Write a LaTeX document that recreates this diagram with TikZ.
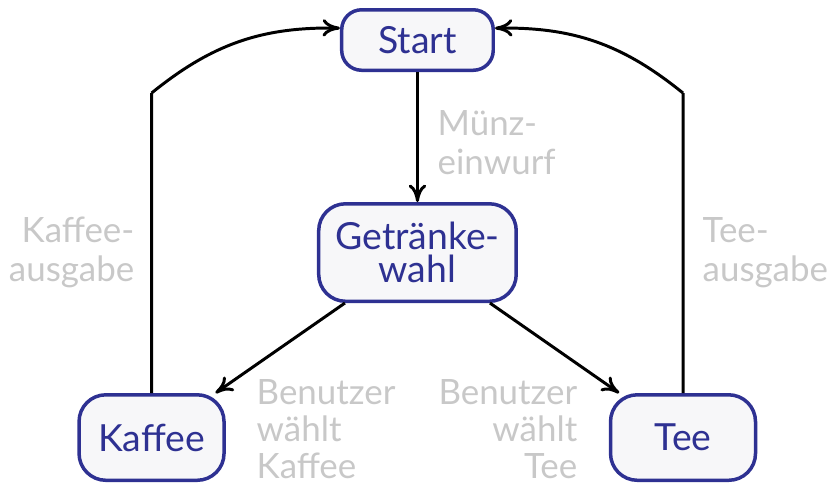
\documentclass[tikz,border=0pt]{standalone}
\usepackage{fontspec}
\setmainfont{Lato}
\usetikzlibrary{arrows.meta}
\definecolor{zblue}{RGB}{46,49,146}
\definecolor{zfill}{RGB}{247,247,249}
\definecolor{zgray}{RGB}{200,200,200}

\begin{document}
\begin{tikzpicture}[
    statebox/.style={draw=zblue,fill=zfill,text=zblue,line width=1pt,rounded corners=0.27cm,
      align=center,inner sep=0pt,font=\fontsize{10.7}{9.6}\selectfont},
    note/.style={text=zgray,inner sep=0pt,font=\fontsize{10}{11.1}\selectfont},
    flow/.style={line width=0.85pt,-{To[length=5pt,width=5pt]}}]
  \useasboundingbox (0,0) rectangle (8.348,4.864);

  % states
  \node[statebox,rounded corners=0.2cm,minimum width=1.526cm,minimum height=0.609cm] (start) at (4.204,4.461) {Start};
  \node[statebox,minimum width=1.989cm,minimum height=0.982cm] (wahl) at (4.204,2.321) {Getränke-\\wahl};
  \node[statebox,minimum width=1.46cm,minimum height=0.861cm] (kaffee) at (1.526,0.458) {Kaffee};
  \node[statebox,minimum width=1.46cm,minimum height=0.861cm] (tee) at (6.878,0.458) {Tee};

  % corners of the return loops
  \coordinate (kc) at (1.526,3.927);
  \coordinate (tc) at (6.878,3.927);

  % transitions
  \draw[flow] (start) -- (wahl);
  \draw[flow] (wahl) -- (kaffee);
  \draw[flow] (wahl) -- (tee);
  \draw[flow] (kaffee) -- (kc) (kc) to[bend left=20] (start);
  \draw[flow] (tee) -- (tc) (tc) to[bend right=20] (start);

  % labels
  \node[note,anchor=north west,align=left] (lmuenz) at (4.400,3.756) {Münz-\\einwurf};
  \node[note,anchor=north east,align=right] (lkaffee) at (1.359,2.682) {Kaffee-\\ausgabe};
  \node[note,anchor=north west,align=left] (ltee) at (7.069,2.676) {Tee-\\ausgabe};
  \node[note,font=\fontsize{10}{10.6}\selectfont,anchor=north west,align=left] (lwk) at (2.578,1.050) {Benutzer\\wählt\\Kaffee};
  \node[note,font=\fontsize{10}{10.6}\selectfont,anchor=north east,align=right] (lwt) at (5.820,1.050) {Benutzer\\wählt\\Tee};
\end{tikzpicture}
\end{document}
